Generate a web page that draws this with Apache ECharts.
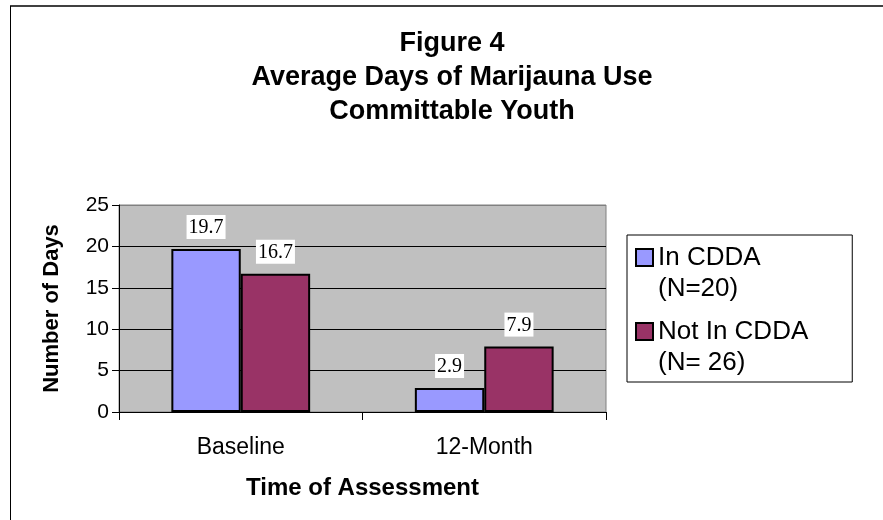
<!DOCTYPE html>
<html>
<head>
<meta charset="utf-8">
<script src="https://cdn.jsdelivr.net/npm/echarts@6/dist/echarts.min.js"></script>
<style>
html,body{margin:0;padding:0;background:#fff;}
#chart{width:883px;height:520px;}
</style>
</head>
<body>
<div id="chart"></div>
<script>
const titleLines = ['Figure 4', 'Average Days of Marijauna Use', 'Committable Youth'];
const categories = ['Baseline', '12-Month'];
const seriesNames = ['In CDDA\n(N=20)', 'Not In CDDA\n(N= 26)'];
const inCDDA = [19.7, 2.9];
const notInCDDA = [16.7, 7.9];
const yTicks = {min: 0, max: 25, interval: 5};
const xAxisName = 'Time of Assessment';
const yAxisName = 'Number of Days';

const SANS = 'Arial, "Liberation Sans", sans-serif';
const SERIF = '"Times New Roman", "Liberation Serif", serif';

const chart = echarts.init(document.getElementById('chart'));

const labelOpt = {
  show: true,
  position: 'top',
  distance: 10,
  fontFamily: SERIF,
  fontSize: 20,
  color: '#000',
  backgroundColor: '#fff',
  padding: [3, 2, 1, 2],
  formatter: p => p.value.toFixed(1)
};

chart.setOption({
  animation: false,
  backgroundColor: '#fff',
  title: {
    text: titleLines.join('\n'),
    left: 452,
    textAlign: 'center',
    top: 27,
    padding: 0,
    textStyle: {
      fontFamily: SANS,
      fontWeight: 'bold',
      fontSize: 27,
      lineHeight: 34,
      color: '#000'
    }
  },
  legend: {
    orient: 'vertical',
    left: 627,
    top: 235,
    padding: [6, 44, 3, 8],
    itemGap: 10,
    itemWidth: 17,
    itemHeight: 62,
    icon: 'path://M0,7L17,7L17,24L0,24Z M0,0 M0,62',
    borderColor: '#000',
    borderWidth: 1,
    backgroundColor: '#fff',
    itemStyle: {borderColor: '#000', borderWidth: 2},
    textStyle: {
      fontFamily: SANS,
      fontSize: 26,
      lineHeight: 31,
      color: '#000'
    }
  },
  grid: {
    left: 119,
    right: 277,
    top: 205,
    bottom: 108,
    show: true,
    backgroundColor: '#C0C0C0',
    borderColor: '#808080',
    borderWidth: 1
  },
  xAxis: {
    type: 'category',
    data: categories,
    name: xAxisName,
    nameLocation: 'middle',
    nameGap: 64,
    nameTextStyle: {fontFamily: SANS, fontWeight: 'bold', fontSize: 24, color: '#000'},
    axisLine: {lineStyle: {color: '#000', width: 1}},
    axisTick: {show: true, length: 8, lineStyle: {color: '#000'}},
    axisLabel: {fontFamily: SANS, fontSize: 23, color: '#000', margin: 24}
  },
  yAxis: {
    type: 'value',
    min: yTicks.min,
    max: yTicks.max,
    interval: yTicks.interval,
    name: yAxisName,
    nameLocation: 'middle',
    nameGap: 56,
    nameTextStyle: {fontFamily: SANS, fontWeight: 'bold', fontSize: 22, color: '#000'},
    axisLine: {show: true, lineStyle: {color: '#000', width: 1}},
    axisTick: {show: true, length: 7, lineStyle: {color: '#000'}},
    axisLabel: {fontFamily: SANS, fontSize: 21, color: '#000', margin: 10},
    splitLine: {show: true, lineStyle: {color: ['#000', '#000', '#000', '#000', '#000', '#808080'], width: 1}}
  },
  series: [
    {
      name: seriesNames[0],
      type: 'bar',
      data: inCDDA,
      barGap: '0%',
      barCategoryGap: '43%',
      itemStyle: {color: '#9999FF', borderColor: '#000', borderWidth: 2},
      label: labelOpt
    },
    {
      name: seriesNames[1],
      type: 'bar',
      data: notInCDDA,
      barGap: '0%',
      barCategoryGap: '43%',
      itemStyle: {color: '#993366', borderColor: '#000', borderWidth: 2},
      label: labelOpt
    }
  ],
  graphic: [
    {type: 'line', shape: {x1: 10, y1: 6, x2: 883, y2: 6}, style: {stroke: '#404040', lineWidth: 2}, silent: true},
    {type: 'line', shape: {x1: 10.5, y1: 6, x2: 10.5, y2: 520}, style: {stroke: '#000', lineWidth: 1}, silent: true}
  ]
});
</script>
</body>
</html>
